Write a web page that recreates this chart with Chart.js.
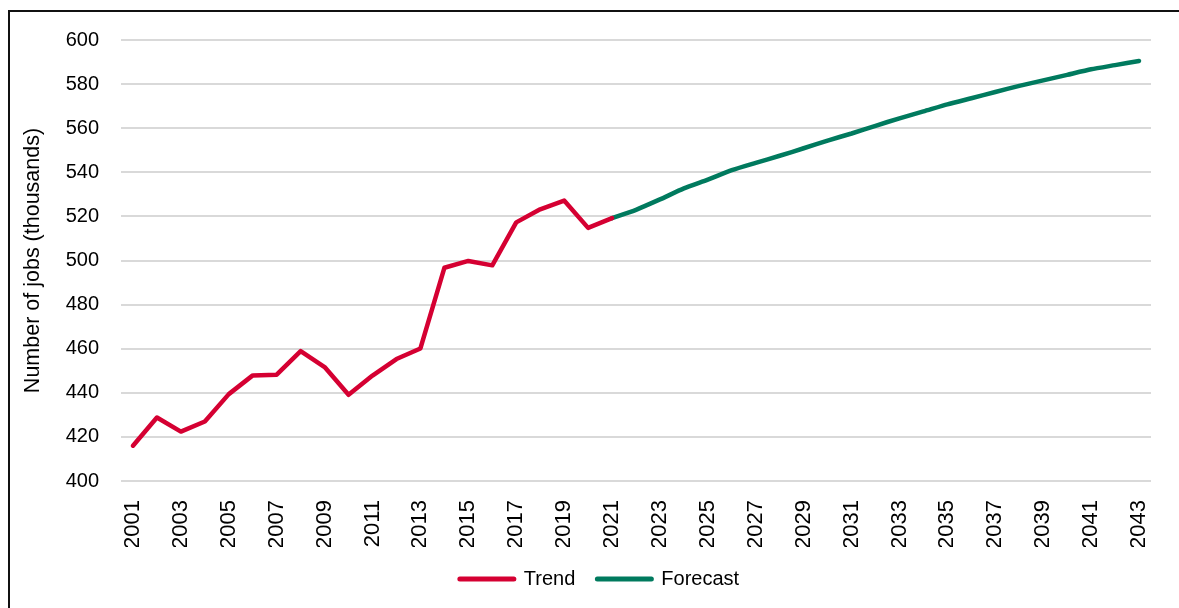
<!DOCTYPE html>
<html>
<head>
<meta charset="utf-8">
<script src="https://cdn.jsdelivr.net/npm/chart.js@4"></script>
<style>
  html, body { margin: 0; padding: 0; background: #fff; overflow: hidden; }
  #marco { position: absolute; left: 8px; top: 10px; width: 1240px; height: 660px; border: 2px solid #111; box-sizing: border-box; }
  #caja { position: absolute; left: 0; top: 0; width: 1179px; height: 608px; }
</style>
</head>
<body>
<div id="marco"></div>
<div id="caja"><canvas id="grafico" width="1179" height="608"></canvas></div>
<script>
// años del eje x
const anios = ['2001','2002','2003','2004','2005','2006','2007','2008','2009','2010',
  '2011','2012','2013','2014','2015','2016','2017','2018','2019','2020','2021',
  '2022','2023','2024','2025','2026','2027','2028','2029','2030','2031','2032',
  '2033','2034','2035','2036','2037','2038','2039','2040','2041','2042','2043'];

// empleos (miles), historico 2001-2021
const tendencia = [416, 428.8, 422.4, 427, 439.4, 447.9, 448.2, 458.9, 451.7, 439.1,
  447.8, 455.3, 460.1, 496.7, 499.8, 497.8, 517.3, 523.2, 527.2, 514.8, 519.2];

// proyeccion 2021-2043
const pronostico = [519.2, 523, 527.7, 532.7, 536.7, 541, 544.3, 547.5, 550.9, 554.4,
  557.6, 561.1, 564.5, 567.6, 570.8, 573.6, 576.4, 579.2, 581.7, 584.2, 586.7, 588.6, 590.5];

const ticksY = [400, 420, 440, 460, 480, 500, 520, 540, 560, 580, 600];

const ROJO = 'rgb(213, 0, 50)';
const VERDE = 'rgb(0, 122, 94)';
const fuente = '"Liberation Sans", Arial, sans-serif';

// rellenar con null para que cada serie quede en su tramo
const datosTendencia = anios.map((a, i) => i < tendencia.length ? tendencia[i] : null);
const inicioPron = anios.length - pronostico.length;
const datosPronostico = anios.map((a, i) => i >= inicioPron ? pronostico[i - inicioPron] : null);

function generarGrafico() {
  const ctx = document.querySelector('#grafico').getContext('2d');

  const config = {
    type: 'line',
    data: {
      labels: anios,
      datasets: [{
        label: 'Trend',
        data: datosTendencia,
        borderColor: ROJO,
        backgroundColor: ROJO,
        borderWidth: 4.5,
        borderCapStyle: 'round',
        borderJoinStyle: 'round',
        pointRadius: 0,
        pointStyle: 'line',
        pointBorderColor: ROJO,
        pointBorderWidth: 5,
        tension: 0
      }, {
        label: 'Forecast',
        data: datosPronostico,
        borderColor: VERDE,
        backgroundColor: VERDE,
        borderWidth: 4.5,
        borderCapStyle: 'round',
        borderJoinStyle: 'round',
        pointRadius: 0,
        pointStyle: 'line',
        pointBorderColor: VERDE,
        pointBorderWidth: 5,
        tension: 0.2
      }]
    },
    options: {
      responsive: false,
      animation: false,
      layout: { padding: { left: 20, right: 0, top: 40, bottom: 9 } },
      plugins: {
        tooltip: { enabled: false },
        legend: {
          position: 'bottom',
          labels: {
            usePointStyle: true,
            pointStyleWidth: 54,
            boxHeight: 5,
            padding: 22,
            color: '#000',
            font: { family: fuente, size: 20 },
            generateLabels: (chart) => Chart.defaults.plugins.legend.labels.generateLabels(chart)
              .map(l => Object.assign(l, { lineCap: 'round' }))
          }
        }
      },
      scales: {
        x: {
          offset: true,
          grid: { display: false, drawTicks: false },
          border: { display: false },
          ticks: {
            autoSkip: false,
            minRotation: 90,
            maxRotation: 90,
            padding: 19,
            color: '#000',
            font: { family: fuente, size: 22 },
            callback: function(val, i) { return i % 2 === 0 ? this.getLabelForValue(val) : ''; }
          },
          afterFit: (s) => {
            s.height = 66;
            s.paddingLeft = 0;
            s.paddingRight = 0;
          }
        },
        y: {
          min: 400,
          max: 600,
          afterBuildTicks: (s) => { s.ticks = ticksY.map(v => ({ value: v })); },
          grid: { color: '#d9d9d9', lineWidth: 2, drawTicks: false },
          border: { display: false },
          ticks: {
            padding: 22,
            color: '#000',
            font: { family: fuente, size: 20 }
          },
          title: {
            display: true,
            text: 'Number of jobs (thousands)',
            color: '#000',
            font: { family: fuente, size: 21.5 },
            padding: { top: 0, bottom: 0 }
          },
          afterFit: (s) => { s.width = 101; }
        },
        // margen derecho del area de trazado
        margenDer: {
          type: 'linear',
          position: 'right',
          grid: { display: false },
          border: { display: false },
          ticks: { display: false },
          afterFit: (s) => { s.width = 28; }
        }
      }
    }
  };

  new Chart(ctx, config);
}

generarGrafico();
</script>
</body>
</html>
